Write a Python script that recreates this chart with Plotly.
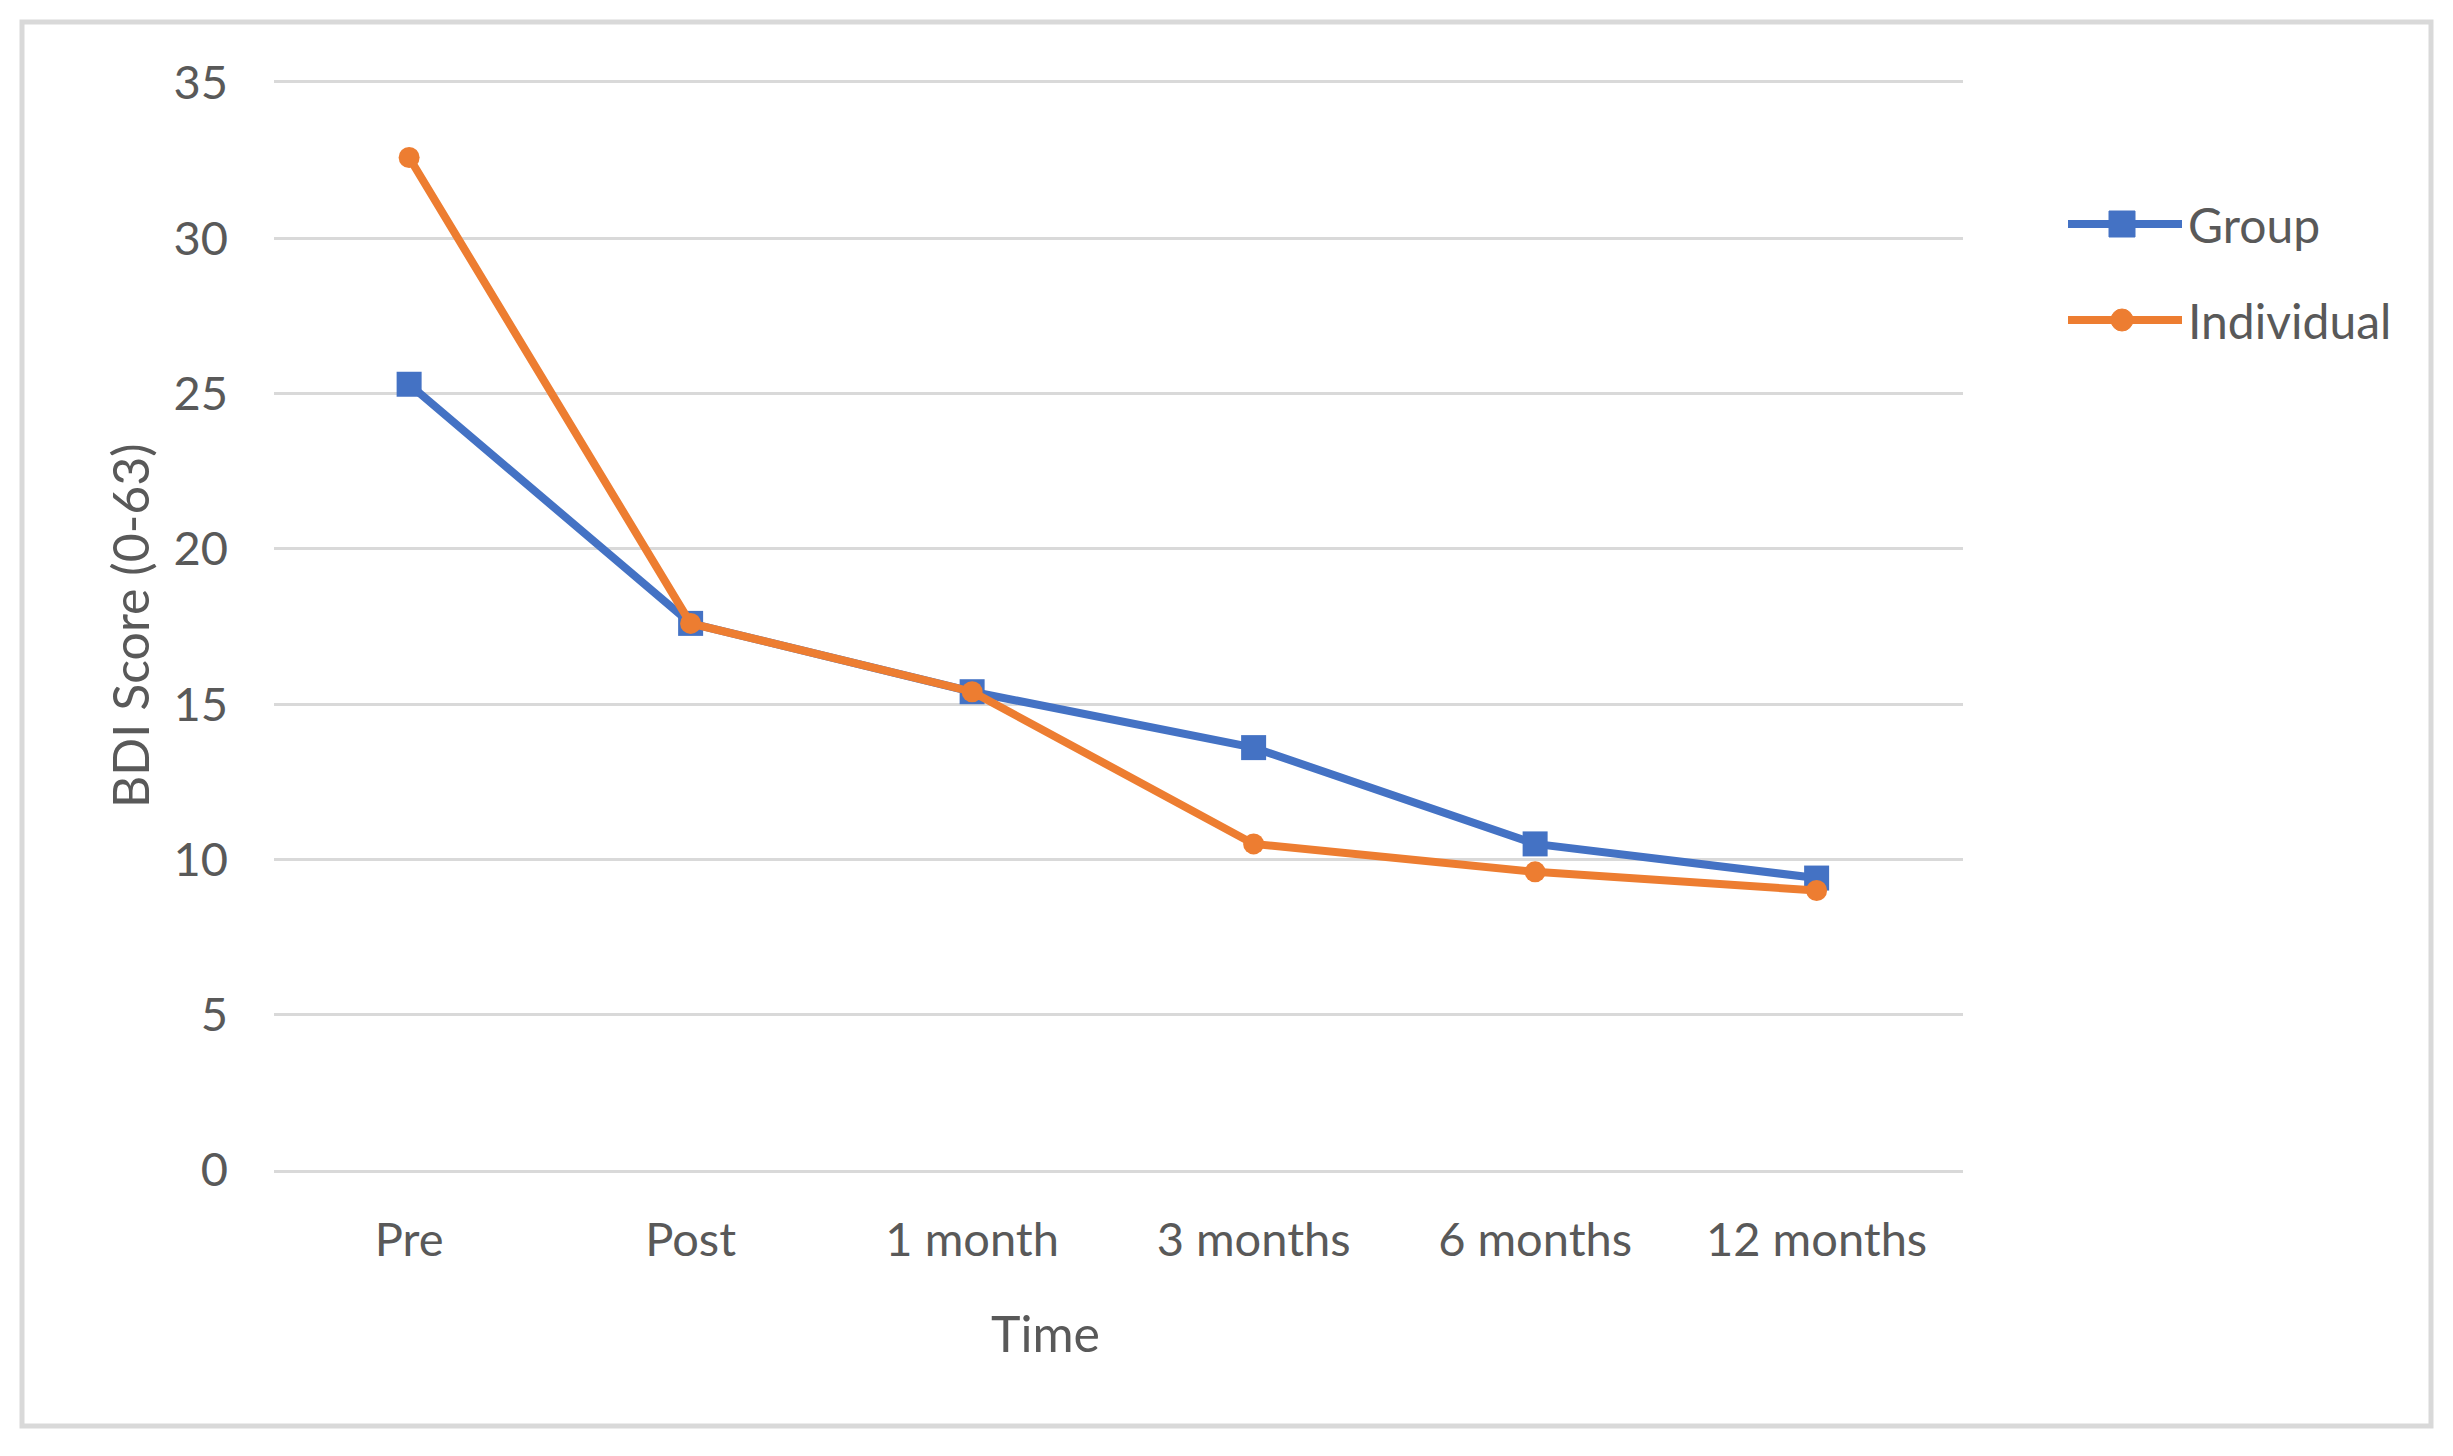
import plotly.graph_objects as go

categories = ["Pre", "Post", "1 month", "3 months", "6 months", "12 months"]
group_values = [25.3, 17.6, 15.4, 13.6, 10.5, 9.4]
individual_values = [32.6, 17.6, 15.4, 10.5, 9.6, 9.0]
series_names = ["Group", "Individual"]
y_ticks = [0, 5, 10, 15, 20, 25, 30, 35]

# page body has an 8px margin; lay the figure out in reference pixel coords
OFF = 8
W, H = 2453 - OFF, 1456 - OFF
PL, PR, PT, PB = 274, 1963, 83, 1170  # plot area in reference coords
L, T = PL - OFF, PT - OFF
R, B = W - (PR - OFF), H - (PB - OFF)
PW, PH = PR - PL, PB - PT

BLUE = "#4472C4"
ORANGE = "#ED7D31"
TXT = "#595959"
GRID = "#d9d9d9"
FONT = "Lato"
FS = 47


def px(x):
    return (x - PL) / PW


def py(y):
    return (PB - y) / PH


fig = go.Figure()
fig.add_trace(go.Scatter(
    x=categories, y=group_values, name=series_names[0], mode="lines+markers",
    line=dict(color=BLUE, width=8),
    marker=dict(symbol="square", size=25, color=BLUE),
    showlegend=False,
))
fig.add_trace(go.Scatter(
    x=categories, y=individual_values, name=series_names[1], mode="lines+markers",
    line=dict(color=ORANGE, width=8),
    marker=dict(symbol="circle", size=21, color=ORANGE),
    showlegend=False,
))

shapes = []
annotations = []

# outer chart border
shapes.append(dict(type="rect", xref="paper", yref="paper",
                   x0=px(22), x1=px(2431), y0=py(1426), y1=py(22),
                   line=dict(color=GRID, width=5), fillcolor="rgba(0,0,0,0)", layer="below"))

# custom legend
leg = [(series_names[0], BLUE, "square", 224), (series_names[1], ORANGE, "circle", 320)]
for name, col, sym, yy in leg:
    shapes.append(dict(type="line", xref="paper", yref="paper",
                       x0=px(2068), x1=px(2182), y0=py(yy), y1=py(yy),
                       line=dict(color=col, width=8)))
    cx = 2122
    r = 13 if sym == "square" else 11
    shapes.append(dict(type="rect" if sym == "square" else "circle",
                       xref="paper", yref="paper",
                       x0=px(cx - r), x1=px(cx + r), y0=py(yy + r), y1=py(yy - r),
                       line=dict(color=col, width=1), fillcolor=col))
    annotations.append(dict(text=name, xref="paper", yref="paper",
                            x=px(2186), y=py(yy), xanchor="left", yanchor="middle",
                            showarrow=False, font=dict(family=FONT, size=48, color=TXT)))

# axis titles
annotations.append(dict(text="Time", xref="paper", yref="paper",
                        x=px(1045), y=py(1333), xanchor="center", yanchor="middle",
                        showarrow=False, font=dict(family=FONT, size=50, color=TXT)))
annotations.append(dict(text="BDI Score (0-63)", xref="paper", yref="paper",
                        x=px(130), y=py(626), xanchor="center", yanchor="middle",
                        textangle=-90, showarrow=False,
                        font=dict(family=FONT, size=50, color=TXT)))

fig.update_layout(
    width=W, height=H,
    margin=dict(l=L, r=R, t=T, b=B, pad=0),
    paper_bgcolor="white", plot_bgcolor="white",
    shapes=shapes, annotations=annotations,
    xaxis=dict(type="category", range=[-0.48, 5.52], showgrid=False,
               showline=True, mirror=True, linecolor=GRID, linewidth=3,
               zeroline=False, ticks="", ticklabelstandoff=27,
               tickfont=dict(family=FONT, size=FS, color=TXT)),
    yaxis=dict(range=[0, 35], tickvals=y_ticks, showgrid=True, gridcolor=GRID,
               gridwidth=3, zeroline=False, showline=False, ticks="",
               ticklabelstandoff=45,
               tickfont=dict(family=FONT, size=FS, color=TXT)),
)

fig.write_html("out.html")
